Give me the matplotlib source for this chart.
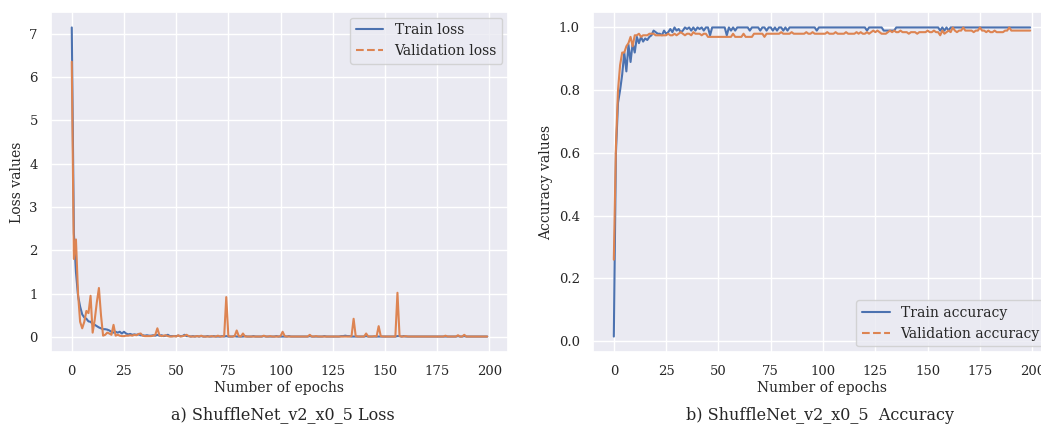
import numpy as np
import matplotlib
matplotlib.use('Agg')
import matplotlib.pyplot as plt
import seaborn as sns
from matplotlib.lines import Line2D

epochs = list(range(200))

train_loss = [
    7.14, 2.40, 1.50, 0.95, 0.70, 0.52, 0.45, 0.42, 0.36, 0.35, 0.30, 0.28, 0.25, 0.22, 0.20, 0.18, 0.18, 0.17, 0.15, 0.12,
    0.10, 0.12, 0.10, 0.12, 0.08, 0.12, 0.08, 0.06, 0.07, 0.05, 0.06, 0.05, 0.06, 0.04, 0.04, 0.03, 0.04, 0.03, 0.03, 0.04,
    0.03, 0.05, 0.03, 0.04, 0.02, 0.03, 0.05, 0.02, 0.02, 0.02, 0.02, 0.03, 0.02, 0.02, 0.05, 0.02, 0.02, 0.01, 0.02, 0.01,
    0.02, 0.01, 0.02, 0.01, 0.01, 0.02, 0.01, 0.01, 0.02, 0.01, 0.01, 0.01, 0.02, 0.01, 0.02, 0.01, 0.01, 0.01, 0.02, 0.01,
    0.01, 0.01, 0.01, 0.02, 0.01, 0.01, 0.01, 0.02, 0.01, 0.01, 0.01, 0.01, 0.02, 0.01, 0.01, 0.01, 0.01, 0.01, 0.02, 0.01,
    0.01, 0.01, 0.01, 0.01, 0.02, 0.01, 0.01, 0.01, 0.01, 0.01, 0.01, 0.01, 0.01, 0.01, 0.02, 0.01, 0.01, 0.01, 0.01, 0.01,
    0.01, 0.02, 0.01, 0.01, 0.01, 0.01, 0.01, 0.01, 0.01, 0.02, 0.02, 0.03, 0.02, 0.02, 0.01, 0.01, 0.01, 0.01, 0.01, 0.01,
    0.01, 0.02, 0.01, 0.01, 0.01, 0.01, 0.01, 0.01, 0.01, 0.01, 0.01, 0.01, 0.01, 0.01, 0.01, 0.01, 0.02, 0.02, 0.01, 0.02,
    0.01, 0.01, 0.01, 0.01, 0.01, 0.01, 0.01, 0.01, 0.01, 0.01, 0.01, 0.01, 0.01, 0.01, 0.01, 0.01, 0.01, 0.01, 0.01, 0.01,
    0.01, 0.01, 0.01, 0.01, 0.01, 0.02, 0.01, 0.01, 0.02, 0.01, 0.01, 0.01, 0.01, 0.01, 0.01, 0.01, 0.01, 0.01, 0.01, 0.01,
]

val_loss = [
    6.35, 1.80, 2.25, 1.00, 0.35, 0.20, 0.35, 0.60, 0.55, 0.95, 0.10, 0.40, 0.80, 1.13, 0.50, 0.03, 0.05, 0.10, 0.08, 0.05,
    0.28, 0.03, 0.05, 0.03, 0.02, 0.02, 0.03, 0.03, 0.04, 0.03, 0.05, 0.04, 0.07, 0.08, 0.03, 0.02, 0.02, 0.02, 0.02, 0.03,
    0.05, 0.20, 0.04, 0.02, 0.03, 0.04, 0.02, 0.01, 0.01, 0.02, 0.01, 0.04, 0.01, 0.02, 0.03, 0.05, 0.02, 0.01, 0.01, 0.01,
    0.02, 0.01, 0.03, 0.01, 0.01, 0.01, 0.01, 0.02, 0.01, 0.01, 0.03, 0.01, 0.01, 0.02, 0.92, 0.02, 0.01, 0.01, 0.02, 0.15,
    0.02, 0.01, 0.08, 0.01, 0.01, 0.01, 0.01, 0.01, 0.01, 0.01, 0.01, 0.01, 0.03, 0.01, 0.01, 0.02, 0.01, 0.01, 0.01, 0.01,
    0.02, 0.12, 0.02, 0.01, 0.01, 0.01, 0.01, 0.01, 0.01, 0.01, 0.01, 0.01, 0.01, 0.01, 0.05, 0.01, 0.01, 0.02, 0.01, 0.01,
    0.01, 0.01, 0.01, 0.01, 0.01, 0.01, 0.01, 0.01, 0.01, 0.01, 0.01, 0.01, 0.01, 0.01, 0.02, 0.42, 0.02, 0.01, 0.01, 0.01,
    0.01, 0.08, 0.01, 0.01, 0.01, 0.02, 0.01, 0.25, 0.02, 0.01, 0.01, 0.01, 0.01, 0.01, 0.01, 0.01, 1.02, 0.02, 0.01, 0.01,
    0.02, 0.01, 0.01, 0.01, 0.01, 0.01, 0.01, 0.01, 0.01, 0.01, 0.01, 0.01, 0.01, 0.01, 0.01, 0.01, 0.01, 0.01, 0.01, 0.03,
    0.01, 0.01, 0.01, 0.01, 0.01, 0.04, 0.01, 0.01, 0.05, 0.01, 0.01, 0.01, 0.01, 0.01, 0.01, 0.01, 0.01, 0.01, 0.01, 0.01,
]

train_acc = [
    0.015, 0.60, 0.76, 0.80, 0.85, 0.92, 0.86, 0.945, 0.89, 0.95, 0.92, 0.97, 0.95, 0.97, 0.955, 0.965, 0.96, 0.97, 0.975, 0.99,
    0.985, 0.98, 0.98, 0.975, 0.99, 0.98, 0.985, 0.995, 0.985, 1.0, 0.99, 0.995, 0.985, 0.99, 1.0, 0.995, 1.0, 0.99, 1.0, 0.99,
    1.0, 0.995, 1.0, 0.99, 1.0, 1.0, 0.975, 1.0, 1.0, 1.0, 1.0, 1.0, 1.0, 1.0, 0.975, 1.0, 0.99, 1.0, 0.99, 1.0,
    1.0, 1.0, 1.0, 1.0, 1.0, 0.99, 1.0, 1.0, 1.0, 1.0, 0.99, 1.0, 1.0, 0.99, 1.0, 1.0, 0.99, 1.0, 0.99, 1.0,
    1.0, 0.99, 1.0, 0.99, 1.0, 1.0, 1.0, 1.0, 1.0, 1.0, 1.0, 1.0, 1.0, 1.0, 1.0, 1.0, 1.0, 0.99, 1.0, 1.0,
    1.0, 1.0, 1.0, 1.0, 1.0, 1.0, 1.0, 1.0, 1.0, 1.0, 1.0, 1.0, 1.0, 1.0, 1.0, 1.0, 1.0, 1.0, 1.0, 1.0,
    1.0, 0.99, 1.0, 1.0, 1.0, 1.0, 1.0, 1.0, 1.0, 0.99, 0.99, 0.99, 0.99, 0.99, 0.99, 1.0, 1.0, 1.0, 1.0, 1.0,
    1.0, 1.0, 1.0, 1.0, 1.0, 1.0, 1.0, 1.0, 1.0, 1.0, 1.0, 1.0, 1.0, 1.0, 1.0, 1.0, 0.99, 1.0, 0.99, 1.0,
    0.99, 1.0, 1.0, 1.0, 1.0, 1.0, 1.0, 1.0, 1.0, 1.0, 1.0, 1.0, 1.0, 1.0, 1.0, 1.0, 1.0, 1.0, 1.0, 1.0,
    1.0, 1.0, 1.0, 1.0, 1.0, 1.0, 1.0, 1.0, 1.0, 1.0, 1.0, 1.0, 1.0, 1.0, 1.0, 1.0, 1.0, 1.0, 1.0, 1.0,
]

val_acc = [
    0.26, 0.62, 0.80, 0.88, 0.92, 0.92, 0.94, 0.95, 0.97, 0.94, 0.975, 0.975, 0.98, 0.97, 0.975, 0.975, 0.975, 0.98, 0.98, 0.98,
    0.975, 0.975, 0.975, 0.975, 0.975, 0.975, 0.98, 0.975, 0.975, 0.98, 0.975, 0.98, 0.985, 0.98, 0.975, 0.98, 0.98, 0.975, 0.985, 0.98,
    0.98, 0.98, 0.975, 0.98, 0.98, 0.97, 0.97, 0.97, 0.97, 0.97, 0.97, 0.97, 0.97, 0.97, 0.97, 0.97, 0.97, 0.98, 0.97, 0.97,
    0.97, 0.97, 0.98, 0.97, 0.97, 0.97, 0.97, 0.98, 0.98, 0.98, 0.98, 0.98, 0.97, 0.98, 0.98, 0.98, 0.98, 0.98, 0.98, 0.98,
    0.985, 0.98, 0.98, 0.98, 0.98, 0.985, 0.98, 0.98, 0.98, 0.98, 0.98, 0.98, 0.985, 0.98, 0.98, 0.985, 0.98, 0.98, 0.98, 0.98,
    0.98, 0.98, 0.985, 0.98, 0.98, 0.98, 0.985, 0.98, 0.98, 0.98, 0.98, 0.985, 0.98, 0.98, 0.98, 0.98, 0.985, 0.98, 0.985, 0.98,
    0.98, 0.985, 0.98, 0.985, 0.99, 0.985, 0.99, 0.985, 0.98, 0.98, 0.98, 0.985, 0.99, 0.985, 0.99, 0.985, 0.985, 0.99, 0.985, 0.985,
    0.985, 0.98, 0.985, 0.985, 0.985, 0.98, 0.985, 0.985, 0.985, 0.985, 0.99, 0.985, 0.985, 0.99, 0.985, 0.985, 0.975, 0.99, 0.98, 0.985,
    0.99, 0.985, 1.0, 0.99, 0.985, 0.99, 0.99, 1.0, 0.99, 0.99, 0.99, 0.99, 0.985, 0.99, 0.99, 1.0, 0.99, 0.99, 0.985, 0.99,
    0.985, 0.985, 0.99, 0.985, 0.985, 0.985, 0.985, 0.99, 0.99, 1.0, 0.99, 0.99, 0.99, 0.99, 0.99, 0.99, 0.99, 0.99, 0.99, 0.99,
]

sns.set_theme(style='darkgrid')
plt.rcParams['font.family'] = ['DejaVu Serif']

blue = sns.color_palette('deep')[0]
orange = sns.color_palette('deep')[1]

fig = plt.figure(figsize=(10.41, 4.28), dpi=100)
fig.patch.set_facecolor('white')

ax1 = fig.add_axes([51/1041, 76/428, 457/1041, 340/428])
ax2 = fig.add_axes([593/1041, 76/428, 458/1041, 340/428])


def legend_handles(a, b):
    return [Line2D([0], [0], color=blue, lw=1.5, label=a),
            Line2D([0], [0], color=orange, lw=1.5, ls='--', label=b)]


ax1.plot(epochs, train_loss, color=blue, lw=1.5)
ax1.plot(epochs, val_loss, color=orange, lw=1.5)
ax1.set_xlabel('Number of epochs', fontsize=10, labelpad=2)
ax1.set_ylabel('Loss values', fontsize=10)
ax1.set_xticks([0, 25, 50, 75, 100, 125, 150, 175, 200])
ax1.tick_params(labelsize=9.5)
ax1.legend(handles=legend_handles('Train loss', 'Validation loss'), loc='upper right',
           fontsize=10, borderaxespad=0.4)

ax2.plot(epochs, train_acc, color=blue, lw=1.5)
ax2.plot(epochs, val_acc, color=orange, lw=1.5)
ax2.set_xlabel('Number of epochs', fontsize=10, labelpad=2)
ax2.set_ylabel('Accuracy values', fontsize=10)
ax2.set_xticks([0, 25, 50, 75, 100, 125, 150, 175, 200])
ax2.tick_params(labelsize=9.5)
ax2.legend(handles=legend_handles('Train accuracy', 'Validation accuracy'), loc='lower right',
           fontsize=10, borderaxespad=0.4)

fig.text(283/1041, 1 - 415/428, 'a) ShuffleNet_v2_x0_5 Loss', ha='center', va='center', fontsize=11.5)
fig.text(820/1041, 1 - 415/428, 'b) ShuffleNet_v2_x0_5  Accuracy', ha='center', va='center', fontsize=11.5)

fig.savefig('out.png', dpi=100)
